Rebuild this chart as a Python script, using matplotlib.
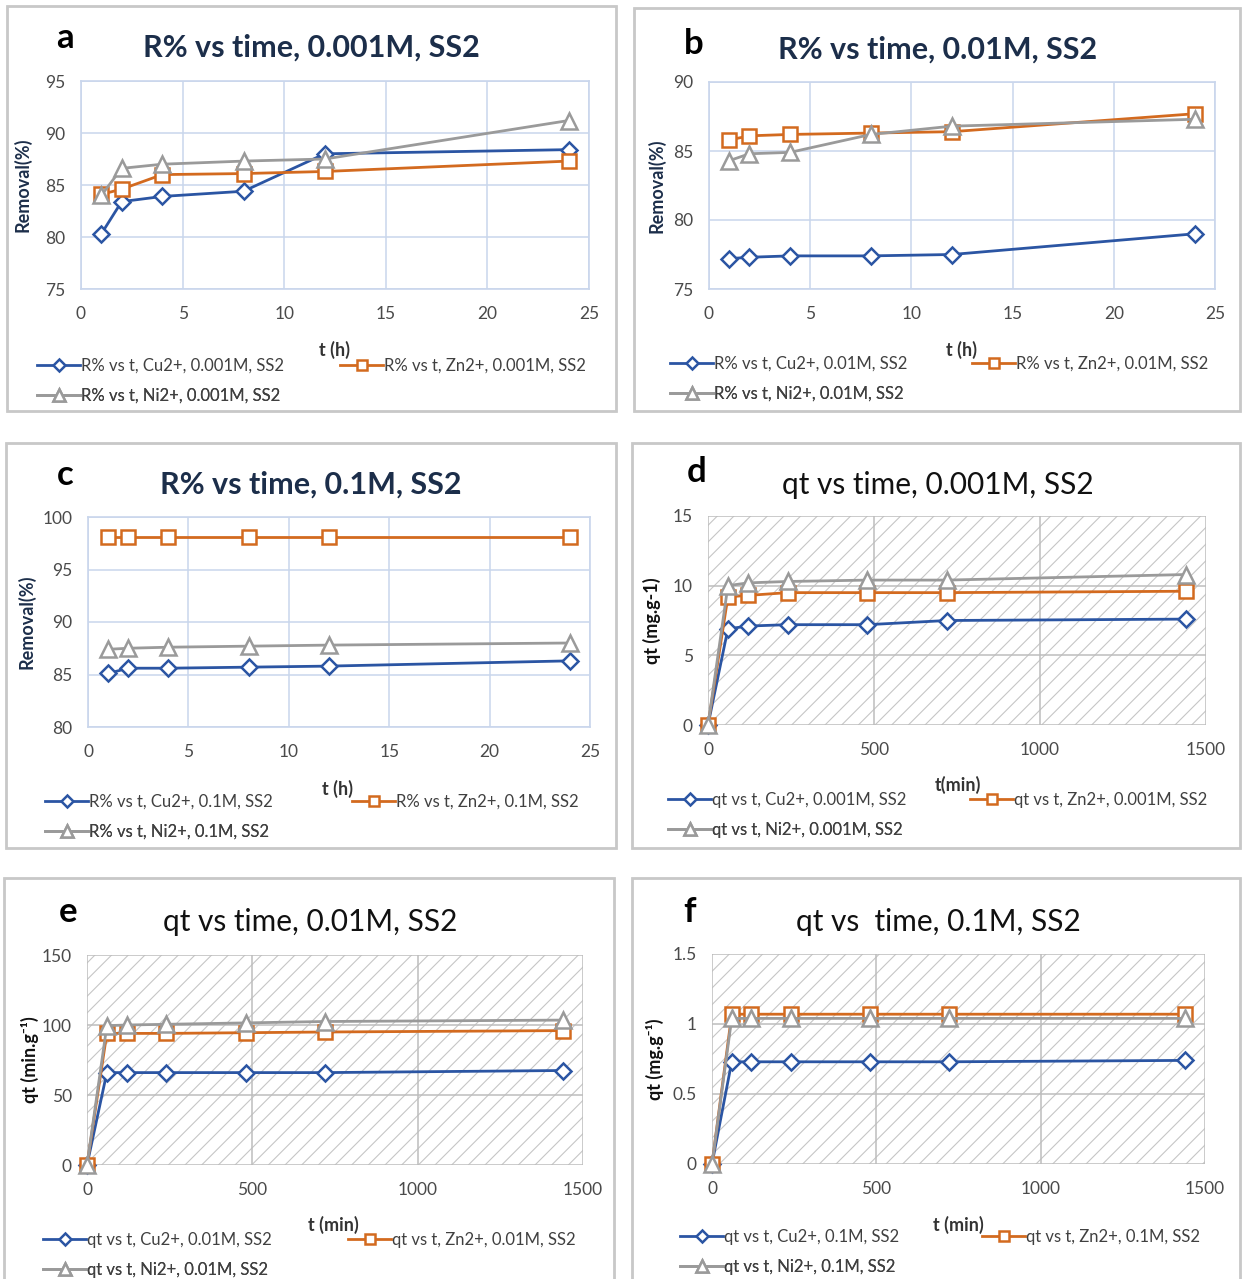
import numpy as np
import matplotlib.pyplot as plt
from matplotlib.patches import Rectangle
from matplotlib.ticker import FuncFormatter, MultipleLocator

plt.rcParams['font.family'] = ['Lato', 'DejaVu Sans']
plt.rcParams['hatch.linewidth'] = 0.8

W, H = 1242, 1279

# data
t_h = [1, 2, 4, 8, 12, 24]
t_min = [0, 60, 120, 240, 480, 720, 1440]

a_cu = [80.3, 83.4, 83.9, 84.4, 88.0, 88.4]
a_zn = [84.1, 84.6, 86.0, 86.1, 86.3, 87.3]
a_ni = [84.0, 86.6, 87.0, 87.3, 87.5, 91.2]

b_cu = [77.2, 77.3, 77.4, 77.4, 77.5, 79.0]
b_zn = [85.8, 86.1, 86.2, 86.3, 86.4, 87.7]
b_ni = [84.3, 84.8, 84.9, 86.2, 86.8, 87.3]

c_cu = [85.1, 85.6, 85.6, 85.7, 85.8, 86.3]
c_zn = [98.1, 98.1, 98.1, 98.1, 98.1, 98.1]
c_ni = [87.4, 87.5, 87.6, 87.7, 87.8, 88.0]

d_cu = [0, 6.9, 7.1, 7.2, 7.2, 7.5, 7.6]
d_zn = [0, 9.2, 9.3, 9.5, 9.5, 9.5, 9.6]
d_ni = [0, 10.0, 10.2, 10.3, 10.4, 10.4, 10.8]

e_cu = [0, 66, 66, 66, 66, 66, 67.5]
e_zn = [0, 94, 94, 94, 94.5, 95, 96]
e_ni = [0, 99.5, 100, 100.5, 101.5, 102.5, 103.5]

f_cu = [0, 0.73, 0.73, 0.73, 0.73, 0.73, 0.74]
f_zn = [0, 1.07, 1.07, 1.07, 1.07, 1.07, 1.07]
f_ni = [0, 1.04, 1.04, 1.04, 1.04, 1.04, 1.04]

blue = '#2B55A3'
orange = '#D36A1F'
grey = '#9A9A9A'
navy = '#1C2E4A'


def fx(px):
    return px / W


def fy(py):
    return 1 - py / H


fig = plt.figure(figsize=(W / 100, H / 100), dpi=100)

panels = [
    dict(letter='a', title='R% vs time, 0.001M, SS2', x=t_h, ys=(a_cu, a_zn, a_ni), conc='0.001M', kind='R',
         box=(7, 6, 616, 411), ax=(81, 81, 589, 289), ylim=(75, 95), ystep=5, ylab='Removal(%)',
         xlab='t (h)', letpos=(65, 38), titpos=(311, 48), xlabpos=(335, 350), ylabx=22,
         leg=[(37, 366), (340, 366), (37, 396)]),
    dict(letter='b', title='R% vs time, 0.01M, SS2', x=t_h, ys=(b_cu, b_zn, b_ni), conc='0.01M', kind='R',
         box=(634, 8, 1240, 411), ax=(709, 82, 1215, 289), ylim=(75, 90), ystep=5, ylab='Removal(%)',
         xlab='t (h)', letpos=(694, 44), titpos=(938, 50), xlabpos=(962, 350), ylabx=656,
         leg=[(670, 364), (972, 364), (670, 394)]),
    dict(letter='c', title='R% vs time, 0.1M, SS2', x=t_h, ys=(c_cu, c_zn, c_ni), conc='0.1M', kind='R',
         box=(6, 443, 616, 848), ax=(88, 517, 590, 727), ylim=(80, 100), ystep=5, ylab='Removal(%)',
         xlab='t (h)', letpos=(65, 475), titpos=(311, 485), xlabpos=(338, 789), ylabx=26,
         leg=[(45, 802), (352, 802), (45, 832)]),
    dict(letter='d', title='qt vs time, 0.001M, SS2', x=t_min, ys=(d_cu, d_zn, d_ni), conc='0.001M', kind='q',
         box=(632, 443, 1240, 848), ax=(708, 516, 1206, 725), ylim=(0, 15), ystep=5, ylab='qt (mg.g-1)',
         xlab='t(min)', letpos=(697, 472), titpos=(938, 485), xlabpos=(958, 785), ylabx=652,
         leg=[(668, 800), (970, 800), (668, 830)]),
    dict(letter='e', title='qt vs time, 0.01M, SS2', x=t_min, ys=(e_cu, e_zn, e_ni), conc='0.01M', kind='q',
         box=(4, 878, 614, 1285), ax=(87, 955, 583, 1165), ylim=(0, 150), ystep=50, ylab='qt (min.g⁻¹)',
         xlab='t (min)', letpos=(68, 912), titpos=(310, 922), xlabpos=(333, 1225), ylabx=30,
         leg=[(43, 1240), (348, 1240), (43, 1270)]),
    dict(letter='f', title='qt vs  time, 0.1M, SS2', x=t_min, ys=(f_cu, f_zn, f_ni), conc='0.1M', kind='q',
         box=(632, 878, 1240, 1285), ax=(712, 954, 1205, 1164), ylim=(0, 1.5), ystep=0.5, ylab='qt (mg.g⁻¹)',
         xlab='t (min)', letpos=(690, 912), titpos=(938, 922), xlabpos=(958, 1225), ylabx=655,
         leg=[(680, 1237), (982, 1237), (680, 1267)]),
]

styles = [(blue, 'D', 8, 'Cu2+'), (orange, 's', 10, 'Zn2+'), (grey, '^', 11, 'Ni2+')]

for p in panels:
    x0, y0, x1, y1 = p['box']
    fig.patches.append(Rectangle((fx(x0), fy(y1)), fx(x1 - x0), (y1 - y0) / H, transform=fig.transFigure,
                                 fill=False, edgecolor='#C8C8C8', linewidth=2))
    l, t, r, b = p['ax']
    ax = fig.add_axes([fx(l), fy(b), fx(r - l), (b - t) / H])
    R = p['kind'] == 'R'
    if R:
        ax.set_xlim(0, 25)
        ax.xaxis.set_major_locator(MultipleLocator(5))
        gc = '#C9D6EC'
        for s in ax.spines.values():
            s.set_color(gc)
            s.set_linewidth(1.2)
    else:
        ax.set_xlim(0, 1500)
        ax.xaxis.set_major_locator(MultipleLocator(500))
        gc = '#BDBDBD'
        for s in ax.spines.values():
            s.set_visible(False)
        ax.add_patch(Rectangle((0, 0), 1, 1, transform=ax.transAxes, facecolor='white',
                               edgecolor='#C6C6C6', hatch='//', linewidth=0, zorder=0))
    ax.set_ylim(*p['ylim'])
    ax.yaxis.set_major_locator(MultipleLocator(p['ystep']))
    ax.yaxis.set_major_formatter(FuncFormatter(lambda v, pos: '{:g}'.format(v)))
    ax.grid(True, color=gc, linewidth=1.1, zorder=1)
    ax.set_axisbelow(True)
    ax.tick_params(length=0, labelsize=12.5, labelcolor='#4A4A4A')
    ax.tick_params(axis='y', pad=11)
    ax.tick_params(axis='x', pad=12)

    handles = []
    name = 'R%' if R else 'qt'
    for ys, (col, mk, ms, ion) in zip(p['ys'], styles):
        h, = ax.plot(p['x'], ys, color=col, marker=mk, markersize=ms, markerfacecolor='white',
                     markeredgecolor=col, markeredgewidth=1.8, linewidth=2, zorder=3, clip_on=False,
                     label='%s vs t, %s, %s, SS2' % (name, ion, p['conc']))
        handles.append(h)

    # legend entries placed one by one, as in the Excel layout
    for h, (lx, ly) in zip(handles, p['leg']):
        leg = ax.legend([h], [h.get_label()], loc='center left', bbox_to_anchor=(fx(lx), fy(ly)),
                        bbox_transform=fig.transFigure, frameon=False, borderpad=0, borderaxespad=0,
                        handlelength=2.6, handletextpad=0.05, markerscale=0.75, fontsize=12,
                        labelcolor='#404040')
        ax.add_artist(leg)

    fig.text(fx(p['letpos'][0]), fy(p['letpos'][1]), p['letter'], fontsize=25, fontweight='bold',
             ha='center', va='center', color='black')
    if R:
        fig.text(fx(p['titpos'][0]), fy(p['titpos'][1]), p['title'], fontsize=22, fontweight='bold',
                 ha='center', va='center', color=navy)
    else:
        fig.text(fx(p['titpos'][0]), fy(p['titpos'][1]), p['title'], fontsize=21.5,
                 ha='center', va='center', color='#111111')
    fig.text(fx(p['xlabpos'][0]), fy(p['xlabpos'][1]), p['xlab'], fontsize=13, fontweight='bold',
             ha='center', va='center', color='#333333')
    fig.text(fx(p['ylabx']), fy((t + b) / 2), p['ylab'], fontsize=13, fontweight='bold', rotation=90,
             ha='center', va='center', color=navy if R else '#111111')

plt.savefig('out.png', dpi=100)
